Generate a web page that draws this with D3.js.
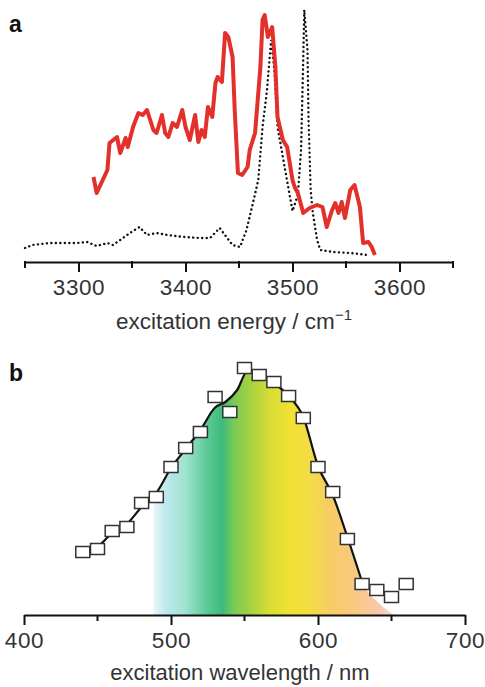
<!DOCTYPE html>
<meta charset="utf-8">
<style>
  body { margin: 0; background: #fff; }
  svg text { font-family: "Liberation Sans", Arial, sans-serif; fill: #333; }
  .axis path, .axis line { stroke: #111; stroke-width: 2; }
</style>
<body>
<svg id="chart" width="485" height="687"></svg>
<script src="https://d3js.org/d3.v7.min.js"></script>
<script>
// panel a: excitation energy (cm-1) vs intensity (arb. units)
var redEnergy = [3314, 3317, 3327, 3329, 3336, 3339, 3344, 3346, 3351, 3356, 3360, 3364, 3370, 3373, 3378, 3381,
  3384, 3388, 3392, 3397, 3400, 3404, 3409, 3412, 3415, 3418, 3421, 3425, 3428, 3430, 3434, 3437, 3440, 3444,
  3446, 3449, 3453, 3458, 3460, 3465, 3470, 3472, 3474, 3477, 3481, 3484, 3486, 3491, 3495, 3500, 3502, 3505,
  3510, 3516, 3523, 3528, 3532, 3537, 3540, 3543, 3546, 3549, 3554, 3558, 3563, 3566, 3571, 3574, 3577];
var redIntensity = [85, 69, 92, 119, 125, 109, 124, 115, 135, 149, 147, 152, 132, 129, 147, 129,
  125, 139, 135, 152, 135, 122, 147, 120, 132, 125, 155, 145, 179, 185, 180, 229, 225, 205,
  152, 89, 87, 95, 112, 129, 195, 242, 247, 225, 235, 195, 145, 122, 115, 82, 75, 69,
  49, 54, 57, 55, 35, 52, 59, 49, 60, 44, 72, 77, 55, 19, 20, 15, 7];

var dotEnergy = [3250, 3257, 3273, 3289, 3299, 3308, 3317, 3327, 3332, 3339, 3348, 3357, 3364, 3373, 3383, 3398,
  3414, 3423, 3432, 3439, 3444, 3451, 3457, 3463, 3468, 3472, 3476, 3480, 3483, 3486, 3491, 3496, 3500, 3505,
  3508, 3510, 3511, 3514, 3515, 3517, 3519, 3523, 3526, 3538, 3554, 3570];
var dotIntensity = [14, 17, 19, 19, 19, 20, 16, 19, 17, 22, 29, 35, 27, 29, 27, 25,
  24, 24, 34, 24, 17, 15, 32, 59, 82, 135, 170, 222, 192, 135, 105, 75, 51, 67,
  112, 202, 252, 212, 142, 72, 49, 22, 12, 10, 9, 7];

var energyTicks = [3300, 3400, 3500, 3600];
var energyMinor = [3250, 3350, 3450, 3550, 3650];

// panel b: excitation wavelength (nm) vs action (normalised)
var wavelength = [440, 450, 460, 470, 480, 490, 500, 510, 520, 530, 540, 550, 560, 570, 580, 590, 600, 610, 620, 630, 640, 650, 660];
var action = [0.252, 0.264, 0.336, 0.352, 0.448, 0.472, 0.592, 0.668, 0.732, 0.872, 0.812, 0.988, 0.96, 0.932, 0.876, 0.788,
  0.592, 0.492, 0.304, 0.124, 0.1, 0.072, 0.124];
var fitWavelength = [440, 450, 460, 470, 480, 490, 500, 510, 520, 530, 537, 545, 552, 560, 570, 580, 590, 600, 610, 620, 630];
var fitAction = [0.248, 0.272, 0.328, 0.364, 0.432, 0.488, 0.588, 0.664, 0.74, 0.83, 0.852, 0.9, 0.975, 0.964, 0.928, 0.876,
  0.792, 0.596, 0.48, 0.312, 0.132];
var wlTicks = [400, 500, 600, 700];
var wlMinor = [450, 550, 650];

// spectrum colours under the curve
var spectrumWl = [488, 496, 510, 523, 535, 543, 554, 567, 581, 595, 608, 625, 642, 652];
var spectrumColor = ["#eaf7fa", "#bfe9ee", "#9ee3d0", "#62cc9a", "#3dbb7d", "#7acb55", "#a6d140", "#d7dd35",
  "#f0e232", "#f3dc46", "#f7cc64", "#f9c97f", "#f8c8b0", "#fbdcd2"];

var svg = d3.select('#chart');

// ---------- panel a ----------
var xa = d3.scaleLinear().domain([3250, 3650]).range([25, 453]);
var ya = d3.scaleLinear().domain([0, 250]).range([262, 12]);

var lineA = d3.line()
  .x(function (d) { return xa(d[0]) })
  .y(function (d) { return ya(d[1]) });

svg.append('path')
  .datum(d3.zip(dotEnergy, dotIntensity))
  .attr('d', lineA)
  .attr('fill', 'none')
  .attr('stroke', '#111')
  .attr('stroke-width', 2.4)
  .attr('stroke-linecap', 'round')
  .attr('stroke-dasharray', '0.1,4.4');

svg.append('path')
  .datum(d3.zip(redEnergy, redIntensity))
  .attr('d', lineA)
  .attr('fill', 'none')
  .attr('stroke', '#e3302a')
  .attr('stroke-width', 4)
  .attr('stroke-linejoin', 'round');

var axisA = svg.append('g')
  .attr('class', 'axis')
  .attr('transform', 'translate(0,262)')
  .call(d3.axisBottom(xa).tickValues(energyTicks).tickSize(10).tickSizeOuter(0).tickPadding(7).tickFormat(d3.format('d')));
axisA.selectAll('text').attr('font-size', 22.5).attr('letter-spacing', 0.6).style('fill', '#333');
axisA.selectAll('.minor')
  .data(energyMinor)
  .enter().append('line')
  .attr('class', 'minor')
  .attr('x1', function (d) { return xa(d) })
  .attr('x2', function (d) { return xa(d) })
  .attr('y1', -1)
  .attr('y2', 6)
  .attr('stroke', '#111')
  .attr('stroke-width', 2);

var titleA = svg.append('text')
  .attr('x', 234)
  .attr('y', 329)
  .attr('text-anchor', 'middle')
  .attr('font-size', 22.5);
titleA.append('tspan').text('excitation energy / cm');
titleA.append('tspan').attr('dy', -9).attr('font-size', 15).text('\u22121');

svg.append('text')
  .attr('x', 9)
  .attr('y', 32)
  .attr('font-size', 23)
  .attr('font-weight', 'bold')
  .style('fill', '#111')
  .text('a');

// ---------- panel b ----------
var xb = d3.scaleLinear().domain([400, 700]).range([24, 465]);
var yb = d3.scaleLinear().domain([0, 1]).range([615, 365]);

var grad = svg.append('defs').append('linearGradient')
  .attr('id', 'spectrum')
  .attr('gradientUnits', 'userSpaceOnUse')
  .attr('x1', xb(spectrumWl[0]))
  .attr('x2', xb(spectrumWl[spectrumWl.length - 1]))
  .attr('y1', 0)
  .attr('y2', 0);
var wlSpan = spectrumWl[spectrumWl.length - 1] - spectrumWl[0];
spectrumWl.forEach(function (w, i) {
  grad.append('stop')
    .attr('offset', ((w - spectrumWl[0]) / wlSpan * 100) + '%')
    .attr('stop-color', spectrumColor[i]);
});

var fitPts = d3.zip(fitWavelength, fitAction);
var areaPts = [[488, 0.48]].concat(fitPts.filter(function (d) { return d[0] >= 490 }), [[641, 0.05], [652, 0]]);

svg.append('path')
  .datum(areaPts)
  .attr('d', d3.area()
    .x(function (d) { return xb(d[0]) })
    .y0(615)
    .y1(function (d) { return yb(d[1]) })
    .curve(d3.curveMonotoneX))
  .attr('fill', 'url(#spectrum)');

svg.append('path')
  .datum(fitPts)
  .attr('d', d3.line()
    .x(function (d) { return xb(d[0]) })
    .y(function (d) { return yb(d[1]) })
    .curve(d3.curveMonotoneX))
  .attr('fill', 'none')
  .attr('stroke', '#111')
  .attr('stroke-width', 2.2);

var axisB = svg.append('g')
  .attr('class', 'axis')
  .attr('transform', 'translate(0,615)')
  .call(d3.axisBottom(xb).tickValues(wlTicks).tickSize(10).tickSizeOuter(0).tickPadding(7).tickFormat(d3.format('d')));
axisB.selectAll('text').attr('font-size', 22.5).attr('letter-spacing', 0.6).style('fill', '#333');
axisB.selectAll('.minor')
  .data(wlMinor)
  .enter().append('line')
  .attr('class', 'minor')
  .attr('x1', function (d) { return xb(d) })
  .attr('x2', function (d) { return xb(d) })
  .attr('y1', 0)
  .attr('y2', 6)
  .attr('stroke', '#111')
  .attr('stroke-width', 2);

svg.append('g')
  .selectAll('rect')
  .data(d3.zip(wavelength, action))
  .enter().append('rect')
  .attr('x', function (d) { return xb(d[0]) - 7 })
  .attr('y', function (d) { return yb(d[1]) - 5.5 })
  .attr('width', 14)
  .attr('height', 11)
  .attr('fill', '#fff')
  .attr('stroke', '#333')
  .attr('stroke-width', 1.5);

svg.append('text')
  .attr('x', 240)
  .attr('y', 680)
  .attr('text-anchor', 'middle')
  .attr('font-size', 22)
  .text('excitation wavelength / nm');

svg.append('text')
  .attr('x', 9)
  .attr('y', 381)
  .attr('font-size', 23)
  .attr('font-weight', 'bold')
  .style('fill', '#111')
  .text('b');
</script>
</body>
